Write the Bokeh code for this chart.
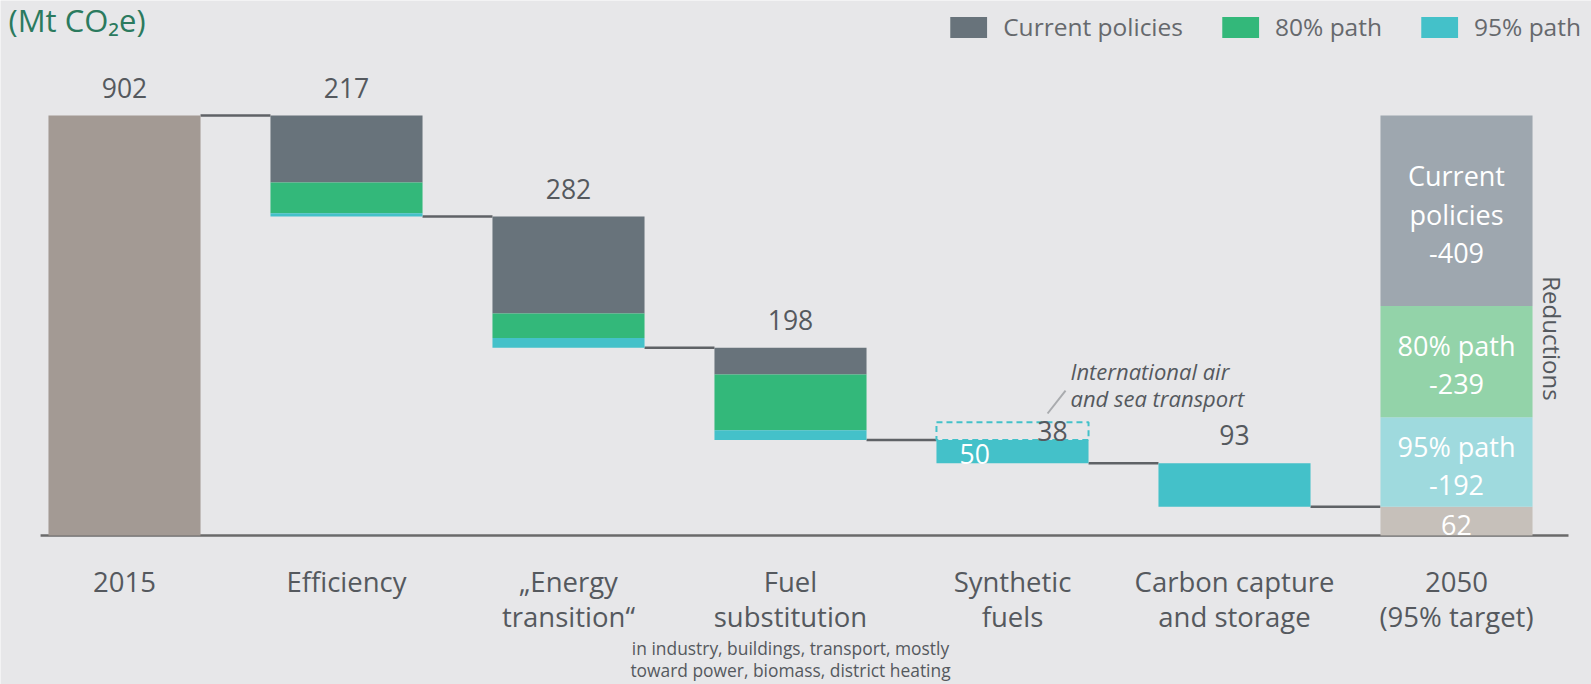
from bokeh.plotting import figure
from bokeh.models import ColumnDataSource, Range1d, Legend, LegendItem
from bokeh.core.properties import value
from bokeh.embed import file_html
from bokeh.resources import INLINE
import math

# ---------------- data ----------------
categories = ["2015", "Efficiency", "\u201eEnergy\ntransition\u201c", "Fuel\nsubstitution",
              "Synthetic\nfuels", "Carbon capture\nand storage", "2050\n(95% target)"]
start_2015 = 902
lever_current = [144, 208, 57, 0, 0]      # Efficiency .. CCS
lever_80 = [66, 53, 120, 0, 0]
lever_95 = [7, 21, 21, 50, 93]
lever_labels = ["217", "282", "198", "", "93"]
intl_transport = 38
end_2050 = 62
red_current = 409
red_80 = 239
red_95 = 192
legend_labels = ["Current policies", "80% path", "95% path"]
fuel_note = "in industry, buildings, transport, mostly\ntoward power, biomass, district heating"
intl_note = "International air\nand sea transport"

# ---------------- style ----------------
BG = "#e7e7e9"
C_2015 = "#a39a94"
C_CUR = "#68737b"
C_80 = "#33b87a"
C_95 = "#44c1c9"
C_CUR_L = "#9ea7af"
C_80_L = "#93d3a9"
C_95_L = "#9fdade"
C_62 = "#c6c0ba"
TXT = "#55595e"
FONT = "Open Sans"
BW = 0.685
PX_X = 222.0
X0_PX = 124.0
BASE_PX = 535.0
S = 420.0 / 902.0  # px per Mt

W, H = 1591, 684
p = figure(width=W, height=H,
           x_range=Range1d(-X0_PX / PX_X, (W - X0_PX) / PX_X),
           y_range=Range1d(-(H - BASE_PX) / S, BASE_PX / S),
           output_backend="svg", toolbar_location=None,
           x_axis_location=None, y_axis_location=None,
           min_border=0, background_fill_color=BG, border_fill_color=BG,
           outline_line_color=None)
p.grid.visible = False


def lines_layout(xs, ys, texts, spacing_px, anchor="center"):
    """Split multi-line texts into single lines; anchor='center' centres the block on y,
    anchor='first' puts the first line on y."""
    ox, oy, ot = [], [], []
    for x, y, t in zip(xs, ys, texts):
        parts = t.split("\n")
        n = len(parts)
        for k, part in enumerate(parts):
            if anchor == "center":
                dy = ((n - 1) / 2.0 - k) * spacing_px / S
            else:
                dy = -k * spacing_px / S
            ox.append(x)
            oy.append(y + dy)
            ot.append(part)
    return ox, oy, ot


n_lev = len(lever_95)
xs_lev = list(range(1, n_lev + 1))
tops, bots = [], []
run = start_2015
for c, g, b in zip(lever_current, lever_80, lever_95):
    tops.append(run)
    run = run - (c + g + b)
    bots.append(run)

cur_src = ColumnDataSource(dict(x=xs_lev, top=tops, bottom=[t - c for t, c in zip(tops, lever_current)]))
g_src = ColumnDataSource(dict(x=xs_lev, top=[t - c for t, c in zip(tops, lever_current)],
                              bottom=[t - c - g for t, c, g in zip(tops, lever_current, lever_80)]))
b_src = ColumnDataSource(dict(x=xs_lev, top=[b + v for b, v in zip(bots, lever_95)], bottom=bots))

# baseline
p.segment(x0=-0.378, x1=6.5045, y0=0, y1=0, line_color="#6a6a6a", line_width=2.5)

# connectors
levels = [start_2015] + bots
p.segment(x0=[i + BW / 2 for i in range(len(levels))],
          x1=[i + 1 - BW / 2 for i in range(len(levels))],
          y0=levels, y1=levels, line_color="#5f6266", line_width=2.5)

# 2015 bar
p.vbar(x=[0], top=[start_2015], bottom=[0], width=BW, fill_color=C_2015, line_color=None)

r_cur = p.vbar(x="x", top="top", bottom="bottom", width=BW, source=cur_src, fill_color=C_CUR, line_color=None)
r_80 = p.vbar(x="x", top="top", bottom="bottom", width=BW, source=g_src, fill_color=C_80, line_color=None)
r_95 = p.vbar(x="x", top="top", bottom="bottom", width=BW, source=b_src, fill_color=C_95, line_color=None)

# dashed box for international transport (synthetic fuels, index 4)
syn_top = tops[3]
p.quad(left=[4 - BW / 2], right=[4 + BW / 2], bottom=[syn_top], top=[syn_top + intl_transport],
       fill_alpha=0, line_color=C_95, line_width=2, line_dash="6 4")

# 2050 stacked bar
xs50 = [6, 6, 6, 6]
b50 = [0, end_2050, end_2050 + red_95, end_2050 + red_95 + red_80]
t50 = [end_2050, end_2050 + red_95, end_2050 + red_95 + red_80, end_2050 + red_95 + red_80 + red_current]
p.vbar(x=xs50, top=t50, bottom=b50, width=BW, fill_color=[C_62, C_95_L, C_80_L, C_CUR_L], line_color=None)

TK = dict(text_font=value(FONT), text_align="center", text_baseline="middle")

# value labels above bars
lx = [0] + [x for x, l in zip(xs_lev, lever_labels) if l]
ly = [start_2015 + 60] + [t + 60 for t, l in zip(tops, lever_labels) if l]
lt = [str(start_2015)] + [l for l in lever_labels if l]
p.text(x=lx, y=ly, text=lt, text_font_size="26.5px", text_color=TXT, **TK)

# synthetic fuels labels
p.text(x=[4 - 0.17], y=[syn_top - lever_95[3] / 2 - 4], text=[str(lever_95[3])],
       text_font_size="26.5px", text_color="white", **TK)
p.text(x=[4 + 0.18], y=[syn_top + intl_transport / 2], text=[str(intl_transport)],
       text_font_size="26.5px", text_color=TXT, **TK)
ix, iy, it = lines_layout([4.261], [324], [intl_note], 27)
p.text(x=ix, y=iy, text=it, text_font=value(FONT), text_font_style="italic", text_font_size="22px",
       text_color=TXT, text_align="left", text_baseline="middle")
p.segment(x0=[4.158], y0=[262], x1=[4.239], y1=[311], line_color="#a9abae", line_width=2)

# 2050 inner labels
inner = [str(end_2050), "95% path\n-" + str(red_95), "80% path\n-" + str(red_80),
         "Current\npolicies\n-" + str(red_current)]
nx, ny, nt = lines_layout(xs50, [(a + b) / 2 - 7.5 for a, b in zip(b50, t50)], inner, 38.5)
p.text(x=nx, y=ny, text=nt, text_font_size="27px", text_color="white", **TK)

# category labels
cx, cy, ct = lines_layout(list(range(len(categories))), [(BASE_PX - 581) / S] * len(categories),
                          categories, 35, anchor="first")
p.text(x=cx, y=cy, text=ct, text_font_size="27.5px", text_color=TXT, **TK)
fx, fy, ft = lines_layout([3], [(BASE_PX - 658.5) / S], [fuel_note], 22.3)
p.text(x=fx, y=fy, text=ft, text_font=value(FONT), text_font_size="17.4px", text_color=TXT,
       text_align="center", text_baseline="middle")

# title
p.text(x=[-0.5225], y=[(BASE_PX - 19) / S], text=["(Mt CO\u2082e)"], text_font=value(FONT),
       text_font_size="31px", text_color="#2b7a5e", text_align="left", text_baseline="middle")

# Reductions
p.text(x=[6.432], y=[(BASE_PX - 338) / S], text=["Reductions"], angle=-math.pi / 2, text_font=value(FONT),
       text_font_size="24px", text_color=TXT, text_align="center", text_baseline="middle")

legend = Legend(items=[LegendItem(label=legend_labels[0], renderers=[r_cur]),
                       LegendItem(label=legend_labels[1], renderers=[r_80]),
                       LegendItem(label=legend_labels[2], renderers=[r_95])],
                orientation="horizontal", location="top_right", margin=0, padding=10,
                background_fill_alpha=0, border_line_alpha=0, glyph_width=46, glyph_height=26,
                label_text_font=FONT, label_text_font_size="24.5px", label_text_color="#66696d",
                label_standoff=12, spacing=34, label_height=26)
p.add_layout(legend)

open("out.html", "w").write(file_html(p, INLINE))
